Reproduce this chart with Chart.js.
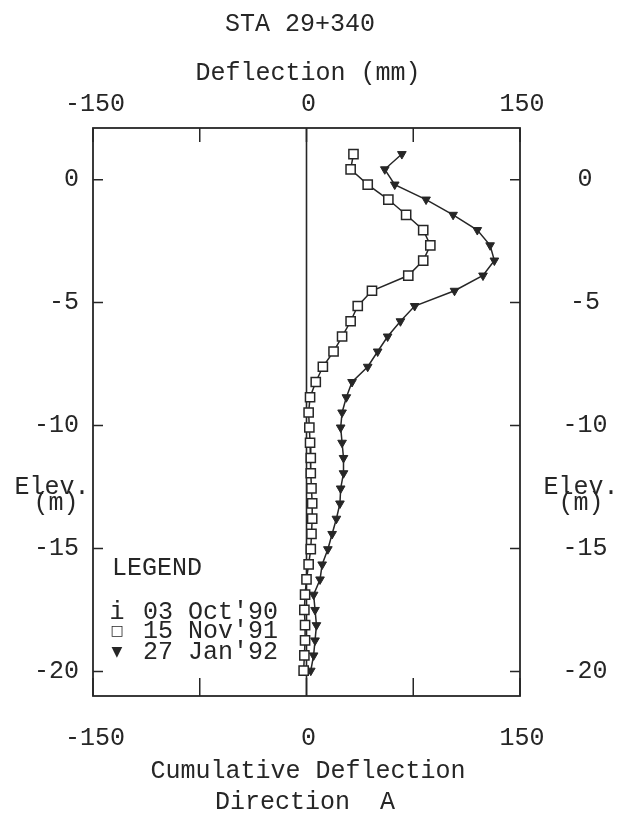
<!DOCTYPE html>
<html>
<head>
<meta charset="utf-8">
<script src="https://cdn.jsdelivr.net/npm/chart.js@4.4.0/dist/chart.umd.min.js"></script>
<style>
  html, body { margin: 0; padding: 0; background: #fff; }
</style>
</head>
<body>
<canvas id="chart" width="620" height="813"></canvas>
<script>
// elevation of each reading (m), shared by both surveys
const elevations = [1.04, 0.42, -0.20, -0.81, -1.43, -2.05, -2.67, -3.29, -3.90, -4.52,
    -5.14, -5.76, -6.38, -6.99, -7.61, -8.23, -8.85, -9.47, -10.08, -10.70,
    -11.32, -11.94, -12.56, -13.17, -13.79, -14.41, -15.03, -15.65, -16.26, -16.88,
    -17.50, -18.12, -18.74, -19.35, -19.97];
// cumulative deflection (mm)
const nov91 = [33, 31, 43, 57.5, 70, 82, 87, 82, 71.5, 46,
    36, 31, 25, 19, 11.5, 6.5, 2.5, 1.5, 2, 2.5,
    3, 3, 3.5, 4, 4, 3.5, 3, 1.5, 0, -1,
    -1.5, -1, -1, -1.5, -2];
const jan92 = [67, 55, 62, 84, 103, 120, 129, 132, 124, 104,
    76, 66, 57, 50, 43, 32, 28, 25, 24, 25,
    26, 26, 24, 23.5, 21, 18, 15, 11, 9.5, 5,
    6, 7, 6, 5, 3];

const xTicks = [-150, -75, 0, 75, 150];
const xTickLabels = ['-150', '', '0', '', '150'];
const yTicks = [0, -5, -10, -15, -20];
const legendSymbols = ['i', '\u25A1', '\u25BC'];
const legendDates = ["03 Oct'90", "15 Nov'91", "27 Jan'92"];

const INK = '#262626';
const FONT = '25px "Liberation Mono", "DejaVu Sans Mono", monospace';

function toPoints(xs) {
    return xs.map((v, i) => ({ x: v, y: elevations[i] }));
}

// frame, inward ticks, labels and legend drawn around the chart area
const framePlugin = {
    id: 'frame',
    beforeDatasetsDraw(chart) {
        const { ctx, chartArea: a, scales: { x } } = chart;
        ctx.save();
        ctx.strokeStyle = INK;
        ctx.lineWidth = 1.6;
        const x0 = x.getPixelForValue(0);
        ctx.beginPath();
        ctx.moveTo(x0, a.top);
        ctx.lineTo(x0, a.bottom);
        ctx.stroke();
        ctx.restore();
    },
    afterDraw(chart) {
        const { ctx, chartArea: a, scales: { x, y } } = chart;
        ctx.save();
        ctx.strokeStyle = INK;
        ctx.lineWidth = 1.8;
        ctx.strokeRect(a.left, a.top, a.right - a.left, a.bottom - a.top);

        ctx.lineWidth = 1.5;
        ctx.beginPath();
        xTicks.forEach(v => {
            const px = x.getPixelForValue(v);
            ctx.moveTo(px, a.top); ctx.lineTo(px, a.top + 14);
            ctx.moveTo(px, a.bottom); ctx.lineTo(px, a.bottom - 18);
        });
        yTicks.forEach(v => {
            const py = y.getPixelForValue(v);
            ctx.moveTo(a.left, py); ctx.lineTo(a.left + 10, py);
            ctx.moveTo(a.right, py); ctx.lineTo(a.right - 10, py);
        });
        ctx.stroke();

        ctx.fillStyle = INK;
        ctx.font = FONT;
        ctx.textBaseline = 'middle';
        ctx.textAlign = 'center';
        ctx.fillText('STA 29+340', 300, 24);
        ctx.fillText('Deflection (mm)', 308, 73);
        ctx.fillText('Cumulative Deflection', 308, 771);
        ctx.fillText('Direction  A', 305, 802);

        xTicks.forEach((v, i) => {
            if (!xTickLabels[i]) return;
            const px = x.getPixelForValue(v) + 2;
            ctx.fillText(xTickLabels[i], px, 104);
            ctx.fillText(xTickLabels[i], px, 738);
        });

        yTicks.forEach(v => {
            const py = y.getPixelForValue(v);
            ctx.textAlign = 'right';
            ctx.fillText(String(v), 79, py);
            ctx.textAlign = 'center';
            ctx.fillText(String(v), 585, py);
        });

        ctx.textAlign = 'center';
        ctx.fillText('Elev.', 52, 487);
        ctx.fillText('(m)', 56, 503);
        ctx.fillText('Elev.', 581, 487);
        ctx.fillText('(m)', 581, 503);

        // legend box text
        ctx.textAlign = 'left';
        ctx.fillText('LEGEND', 112, 568);
        const rows = [612, 631, 652];
        legendDates.forEach((d, i) => {
            ctx.textAlign = 'center';
            if (i === 0) {
                ctx.fillText(legendSymbols[i], 117, rows[i]);
            } else {
                ctx.font = '14px "DejaVu Sans"';
                ctx.fillText(legendSymbols[i], 117, rows[i]);
                ctx.font = FONT;
            }
            ctx.textAlign = 'left';
            ctx.fillText(d, 143, rows[i]);
        });
        ctx.restore();
    }
};

document.addEventListener('DOMContentLoaded', function () {
    const ctx = document.getElementById('chart').getContext('2d');
    new Chart(ctx, {
        type: 'scatter',
        data: {
            datasets: [{
                label: legendDates[1],
                data: toPoints(nov91),
                showLine: true,
                borderColor: INK,
                borderWidth: 1.5,
                pointStyle: 'rect',
                pointRadius: 6.5,
                pointBorderWidth: 1.5,
                pointBackgroundColor: '#fff',
                pointBorderColor: INK
            }, {
                label: legendDates[2],
                data: toPoints(jan92),
                showLine: true,
                borderColor: INK,
                borderWidth: 1.5,
                pointStyle: 'triangle',
                rotation: 180,
                pointRadius: 5,
                pointBorderWidth: 1,
                pointBackgroundColor: INK,
                pointBorderColor: INK
            }]
        },
        options: {
            responsive: false,
            animation: false,
            layout: { padding: { left: 93, right: 100, top: 128, bottom: 117 } },
            plugins: { legend: { display: false }, tooltip: { enabled: false } },
            scales: {
                x: { type: 'linear', min: -150, max: 150, display: false },
                y: { type: 'linear', min: -21, max: 2.1, display: false }
            }
        },
        plugins: [framePlugin]
    });
});
</script>
</body>
</html>
